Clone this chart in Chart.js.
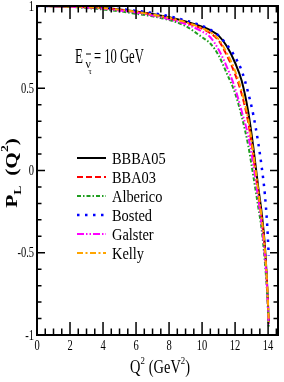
<!DOCTYPE html>
<html>
<head>
<meta charset="utf-8">
<script src="https://cdn.jsdelivr.net/npm/chart.js@4.4.1/dist/chart.umd.min.js"></script>
<style>
html, body { margin: 0; padding: 0; background: #fff; }
#c { display: block; }
</style>
</head>
<body>
<canvas id="c" width="284" height="382"></canvas>
<script>
// Q^2 grid (GeV^2) and P_L values
const q2 = [0, 1, 2, 3, 4, 5, 6, 7, 8, 9, 10, 10.5, 11, 11.5, 12, 12.4, 12.8, 13.1, 13.4, 13.6, 13.8, 13.95, 14.04];
const bbba05   = [1, 0.999, 0.997, 0.993, 0.988, 0.979, 0.967, 0.951, 0.931, 0.906, 0.874, 0.853, 0.82, 0.755, 0.655, 0.545, 0.355, 0.145, -0.1, -0.25, -0.45, -0.71, -0.92];
const bba03    = [1, 0.999, 0.997, 0.993, 0.987, 0.977, 0.964, 0.947, 0.926, 0.899, 0.862, 0.835, 0.79, 0.7, 0.585, 0.465, 0.29, 0.09, -0.14, -0.29, -0.48, -0.72, -0.93];
const alberico = [1, 0.999, 0.995, 0.988, 0.979, 0.968, 0.953, 0.937, 0.915, 0.878, 0.81, 0.772, 0.7, 0.59, 0.47, 0.33, 0.15, -0.03, -0.22, -0.35, -0.55, -0.76, -0.96];
const bosted   = [1, 0.999, 0.997, 0.994, 0.989, 0.981, 0.971, 0.957, 0.938, 0.912, 0.88, 0.856, 0.82, 0.765, 0.69, 0.607, 0.47, 0.34, 0.17, 0.03, -0.14, -0.34, -0.52];
const galster  = [1, 0.999, 0.996, 0.991, 0.983, 0.973, 0.96, 0.942, 0.92, 0.89, 0.845, 0.81, 0.735, 0.63, 0.5, 0.36, 0.21, 0.04, -0.17, -0.32, -0.51, -0.74, -0.94];
const kelly    = [1, 0.999, 0.997, 0.993, 0.987, 0.978, 0.965, 0.948, 0.928, 0.902, 0.865, 0.84, 0.798, 0.715, 0.605, 0.485, 0.31, 0.11, -0.12, -0.28, -0.47, -0.71, -0.92];

const seriesNames = ['BBBA05', 'BBA03', 'Alberico', 'Bosted', 'Galster', 'Kelly'];
const seriesValues = [bbba05, bba03, alberico, bosted, galster, kelly];
const xTicks = [0, 2, 4, 6, 8, 10, 12, 14];
const yTicks = [-1, -0.5, 0, 0.5, 1];

const colors = ['#000000', '#ff0000', '#1f9e1f', '#0000ff', '#ff00ff', '#ffa500'];
const dashes = [[], [6, 3], [4, 2, 1.5, 2], [2.5, 5.5], [7, 2, 1.5, 2, 1.5, 2], [6, 2.5, 2, 2.5]];
const widths = [2, 2, 2, 2.5, 2, 2];

const FONT = '"Liberation Serif", "Times New Roman", serif';

function rich(ctx, segs, x, y, sx, align) {
    let w = 0;
    segs.forEach(function (s) {
        ctx.font = (s.bold ? 'bold ' : '') + s.size + 'px ' + FONT;
        s.w = ctx.measureText(s.t).width;
        w += s.w + (s.gap || 0);
    });
    ctx.save();
    ctx.translate(x, y);
    ctx.scale(sx, 1);
    let cx = align === 'center' ? -w / 2 : 0;
    segs.forEach(function (s) {
        ctx.font = (s.bold ? 'bold ' : '') + s.size + 'px ' + FONT;
        ctx.fillText(s.t, cx, s.dy || 0);
        cx += s.w + (s.gap || 0);
    });
    ctx.restore();
    return w;
}

let framePlugin = {
    id: 'frame',
    afterDatasetsDraw: function (chart) {
        let ctx = chart.ctx;
        let a = chart.chartArea;
        let xs = chart.scales.x, ys = chart.scales.y;
        ctx.save();
        ctx.strokeStyle = '#000';
        ctx.lineWidth = 1.5;
        ctx.beginPath();
        for (let i = 0; i * 0.5 <= xs.max; i++) {
            let px = xs.getPixelForValue(i * 0.5);
            let len = (i % 4 === 0) ? 13 : 6.5;
            ctx.moveTo(px, a.bottom); ctx.lineTo(px, a.bottom - len);
            ctx.moveTo(px, a.top); ctx.lineTo(px, a.top + len);
        }
        for (let i = -10; i <= 10; i++) {
            let py = ys.getPixelForValue(i / 10);
            let len = (i % 5 === 0) ? 8 : 4.5;
            ctx.moveTo(a.left, py); ctx.lineTo(a.left + len, py);
            ctx.moveTo(a.right, py); ctx.lineTo(a.right - len, py);
        }
        ctx.stroke();
        ctx.lineWidth = 2;
        ctx.strokeRect(a.left, a.top, a.right - a.left, a.bottom - a.top);
        ctx.restore();
    },
    afterDraw: function (chart) {
        let ctx = chart.ctx;
        let xs = chart.scales.x, ys = chart.scales.y;
        ctx.save();
        ctx.fillStyle = '#000';
        ctx.textBaseline = 'alphabetic';

        // tick labels (condensed serif like the original)
        ctx.font = '14px ' + FONT;
        xTicks.forEach(function (v) {
            ctx.save();
            ctx.translate(xs.getPixelForValue(v), 349.5);
            ctx.scale(0.75, 1);
            ctx.textAlign = 'center';
            ctx.fillText(String(v), 0, 0);
            ctx.restore();
        });
        yTicks.forEach(function (v) {
            ctx.save();
            ctx.translate(34, ys.getPixelForValue(v) + 4.5);
            ctx.scale(0.75, 1);
            ctx.textAlign = 'right';
            ctx.fillText(String(v), 0, 0);
            ctx.restore();
        });
        ctx.textAlign = 'left';

        // x axis title
        let xt = [
            { t: 'Q', size: 18 },
            { t: '2', size: 11, dy: -9, gap: 5 },
            { t: '(GeV', size: 18 },
            { t: '2', size: 11, dy: -9 },
            { t: ')', size: 18 }
        ];
        rich(ctx, xt, 160, 373, 0.8, 'center');

        // y axis title, rotated
        ctx.save();
        ctx.translate(17, 173);
        ctx.rotate(-Math.PI / 2);
        let yt = [
            { t: 'P', size: 17, bold: true },
            { t: 'L', size: 11, bold: true, dy: 4, gap: 8 },
            { t: '(Q', size: 17, bold: true },
            { t: '2', size: 11, bold: true, dy: -9 },
            { t: ')', size: 17, bold: true }
        ];
        rich(ctx, yt, 0, 0, 1.25, 'center');
        ctx.restore();

        // beam energy note
        rich(ctx, [{ t: 'E', size: 20 }], 75, 63.3, 0.65, 'left');
        ctx.fillRect(86, 53.5, 5, 1);
        rich(ctx, [{ t: 'ν', size: 13 }], 85.5, 67.5, 0.9, 'left');
        rich(ctx, [{ t: 'τ', size: 9 }], 88.5, 73.5, 0.9, 'left');
        rich(ctx, [{ t: '= 10 GeV', size: 20 }], 94, 63.3, 0.63, 'left');

        // legend
        chart.data.datasets.forEach(function (ds, i) {
            let y = 158 + i * 19;
            ctx.save();
            ctx.strokeStyle = ds.borderColor;
            ctx.lineWidth = ds.borderWidth;
            ctx.setLineDash(ds.borderDash);
            ctx.beginPath();
            ctx.moveTo(77, y);
            ctx.lineTo(106, y);
            ctx.stroke();
            ctx.restore();
            rich(ctx, [{ t: ds.label, size: 16 }], 112, y + 5.5, 0.9, 'left');
        });
        ctx.restore();
    }
};

window.onload = function () {
    let ctx = document.getElementById('c').getContext('2d');
    let datasets = seriesNames.map(function (name, i) {
        return {
            label: name,
            data: q2.map(function (q, j) { return { x: q, y: seriesValues[i][j] }; }),
            borderColor: colors[i],
            borderWidth: widths[i],
            borderDash: dashes[i],
            pointRadius: 0,
            fill: false,
            cubicInterpolationMode: 'monotone',
            order: seriesNames.length - i
        };
    });
    window.plChart = new Chart(ctx, {
        type: 'line',
        data: { datasets: datasets },
        options: {
            responsive: false,
            animation: false,
            devicePixelRatio: 1,
            layout: { padding: { top: 6, right: 6, left: 0, bottom: 0 } },
            plugins: { legend: { display: false }, tooltip: { enabled: false } },
            scales: {
                x: {
                    type: 'linear', min: 0, max: 14.6,
                    grid: { display: false, drawTicks: false },
                    border: { display: false },
                    ticks: { display: false },
                    afterFit: function (s) { s.height = 47; }
                },
                y: {
                    type: 'linear', min: -1, max: 1,
                    grid: { display: false, drawTicks: false },
                    border: { display: false },
                    ticks: { display: false },
                    afterFit: function (s) { s.width = 37; }
                }
            }
        },
        plugins: [framePlugin]
    });
};
</script>
</body>
</html>
